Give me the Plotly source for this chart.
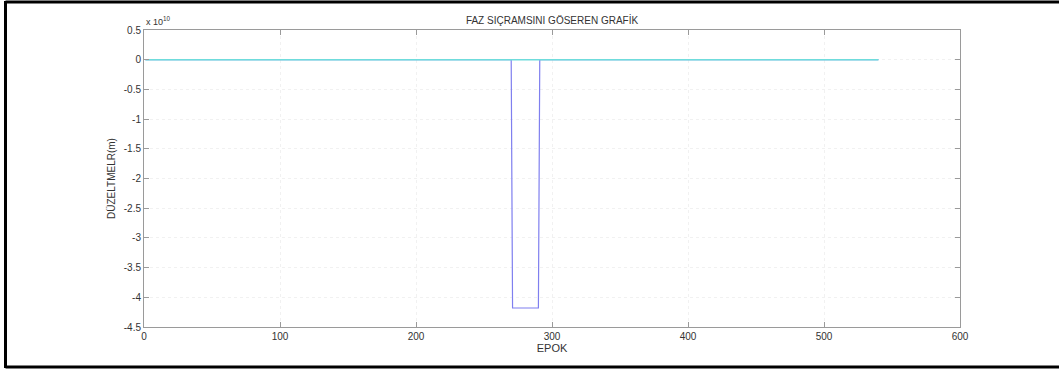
import plotly.graph_objects as go

# Data
jump_epochs = [1, 270, 271, 290, 291, 540]
jump_values = [0, 0, -4.18e10, -4.18e10, 0, 0]
ref_epochs = [1, 540]
ref_values = [0, 0]

x_ticks = [0, 100, 200, 300, 400, 500, 600]
y_tick_vals = [0.5e10, 0, -0.5e10, -1e10, -1.5e10, -2e10, -2.5e10, -3e10, -3.5e10, -4e10, -4.5e10]
y_tick_text = ["0.5", "0", "-0.5", "-1", "-1.5", "-2", "-2.5", "-3", "-3.5", "-4", "-4.5"]

FONT = "Liberation Sans, Arial"

fig = go.Figure()
fig.add_trace(go.Scatter(x=jump_epochs, y=jump_values, mode="lines",
                         line=dict(color="#7f7fef", width=1.2), showlegend=False))
fig.add_trace(go.Scatter(x=ref_epochs, y=ref_values, mode="lines",
                         line=dict(color="#6fdcdc", width=1.5), showlegend=False))

axis_common = dict(
    showline=True, linecolor="#9a9a9a", linewidth=1, mirror="ticks",
    ticks="inside", ticklen=5, tickcolor="#9a9a9a",
    showgrid=True, gridcolor="#f1f1f1", griddash="dot", gridwidth=1,
    zeroline=False, tickfont=dict(family=FONT, size=10, color="#333333"),
)

fig.update_layout(
    width=1059, height=372,
    margin=dict(l=144, r=99, t=30, b=45),
    paper_bgcolor="white", plot_bgcolor="white",
    title=dict(text="FAZ SIÇRAMSINI GÖSEREN GRAFİK", x=0.5, xanchor="center",
               xref="paper", y=1 - 20 / 372, yanchor="middle",
               font=dict(family=FONT, size=10, color="#333333")),
    xaxis=dict(range=[0, 600], tickvals=x_ticks,
               title=dict(text="EPOK", standoff=2,
                          font=dict(family=FONT, size=11, color="#333333")),
               **axis_common),
    yaxis=dict(range=[-4.5e10, 0.5e10], tickvals=y_tick_vals, ticktext=y_tick_text,
               title=dict(text="DÜZELTMELR(m)", standoff=6,
                          font=dict(family=FONT, size=10, color="#333333")),
               **axis_common),
    showlegend=False,
)

fig.add_annotation(text="x 10<sup>10</sup>", xref="paper", yref="paper", x=0, y=1,
                   xanchor="left", yanchor="bottom", showarrow=False, yshift=1,
                   font=dict(family=FONT, size=9, color="#333333"))

# outer frame
fig.add_shape(type="line", xref="paper", yref="paper",
              x0=(5.5 - 144) / 816, x1=(1062 - 144) / 816,
              y0=1 + 28 / 297, y1=1 + 28 / 297, line=dict(color="black", width=3))
fig.add_shape(type="line", xref="paper", yref="paper",
              x0=(5.5 - 144) / 816, x1=(1062 - 144) / 816,
              y0=-(367 - 327) / 297, y1=-(367 - 327) / 297, line=dict(color="black", width=3))
fig.add_shape(type="line", xref="paper", yref="paper",
              x0=(5.5 - 144) / 816, x1=(5.5 - 144) / 816,
              y0=-(368 - 327) / 297, y1=1 + 29 / 297, line=dict(color="black", width=3))

fig.write_html("out.html")
